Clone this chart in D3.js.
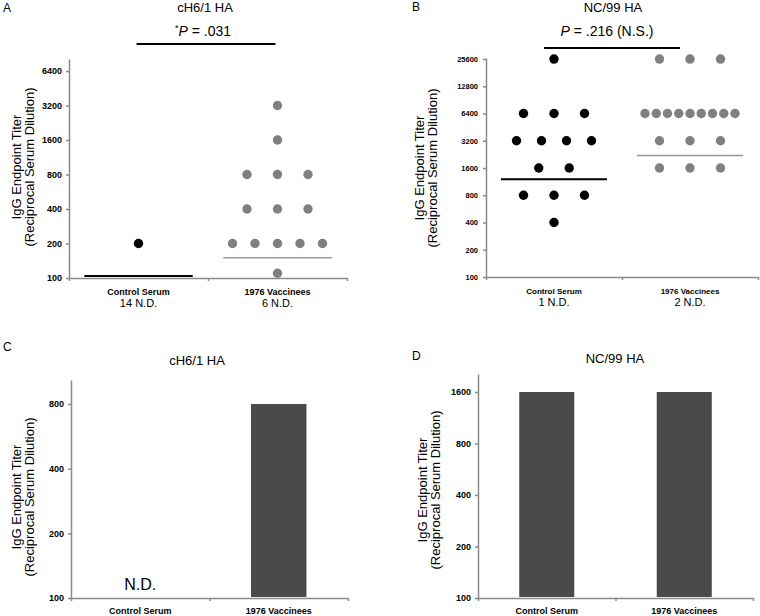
<!DOCTYPE html>
<html>
<head>
<meta charset="utf-8">
<script src="https://cdn.jsdelivr.net/npm/d3@7"></script>
<style>
body { margin: 0; background: #fff; }
svg { display: block; font-family: "Liberation Sans", Arial, sans-serif; }
.axis path, .axis line { stroke: #8a8a8a; stroke-width: 1.5; }
</style>
</head>
<body>
<script>
// Groups on the x axis
var groups = ["Control Serum", "1976 Vaccinees"];

// Panel A - cH6/1 HA, titers per subject
var ticksA = [100, 200, 400, 800, 1600, 3200, 6400];
var controlA = [200];
var vaccineesA = [3200, 1600, 800, 800, 800, 400, 400, 400, 200, 200, 200, 200, 200, 110];
var mediansA = [104, 150];
var notDetectedA = ["14 N.D.", "6 N.D."];
var pTextA = ".031";

// Panel B - NC/99 HA, titers per subject
var ticksB = [100, 200, 400, 800, 1600, 3200, 6400, 12800, 25600];
var controlB = [25600, 6400, 6400, 6400, 3200, 3200, 3200, 3200, 1600, 1600, 800, 800, 800, 400];
var vaccineesB = [25600, 25600, 25600,
  6400, 6400, 6400, 6400, 6400, 6400, 6400, 6400, 6400,
  3200, 3200, 3200, 1600, 1600, 1600];
var mediansB = [1200, 2200];
var notDetectedB = ["1 N.D.", "2 N.D."];
var pTextB = ".216 (N.S.)";

// Panel C / D - pooled sera
var ticksC = [100, 200, 400, 800];
var barsC = [null, 800];
var ticksD = [100, 200, 400, 800, 1600];
var barsD = [1600, 1600];

var svg = d3.select("body").append("svg")
    .attr("width", 760)
    .attr("height", 616);

var dotColors = ["#000", "#808080"];
var lineColors = ["#000", "#999"];

// left/right/top/bottom are the axis box of each panel
var panels = [
  {letter: "A", lx: 3, ly: 12, title: "cH6/1 HA", tx: 205, ty: 12,
   left: 69, right: 347, top: 59, bottom: 278, ymax: 8150, ticks: ticksA,
   dots: [controlA, vaccineesA], medians: mediansA, nd: notDetectedA,
   p: pTextA, star: true, px: 203, py: 36, sigY: 44, sigShift: -2,
   labelX: [21, 34], labelY: 167, narrow: false},
  {letter: "B", lx: 412, ly: 11, title: "NC/99 HA", tx: 613, ty: 12,
   left: 486, right: 758, top: 58, bottom: 277, ymax: 26300, ticks: ticksB,
   dots: [controlB, vaccineesB], medians: mediansB, nd: notDetectedB,
   p: pTextB, star: false, px: 607, py: 36, sigY: 48, sigShift: -10,
   labelX: [424, 437], labelY: 168, narrow: true},
  {letter: "C", lx: 3, ly: 351, title: "cH6/1 HA", tx: 197, ty: 365,
   left: 71, right: 348, top: 380, bottom: 598, ymax: 1035, ticks: ticksC,
   bars: barsC, labelX: [21, 34], labelY: 497, narrow: false},
  {letter: "D", lx: 412, ly: 360, title: "NC/99 HA", tx: 615, ty: 363,
   left: 478, right: 753, top: 374, bottom: 598, ymax: 2038, ticks: ticksD,
   bars: barsD, labelX: [427, 440], labelY: 490, narrow: false}
];

function rowSpacing(n) {
  return n <= 3 ? 30.5 : Math.min(25, 90 / (n - 1));
}

panels.forEach(function(p) {
  var g = svg.append("g");

  var y = d3.scaleLog().base(2)
      .domain([100, p.ymax])
      .range([p.bottom, p.top]);

  var x = d3.scaleBand()
      .domain(groups)
      .range([p.left, p.right]);

  var xTicks = d3.scaleLinear().domain([0, 2]).range([p.left, p.right]);

  // y axis
  var yAxis = g.append("g")
      .attr("class", "axis")
      .attr("transform", "translate(" + p.left + ",0)")
      .call(d3.axisLeft(y).tickValues(p.ticks).tickFormat(d3.format("d"))
        .tickSize(3).tickSizeOuter(0).tickPadding(p.narrow ? 5 : 4));
  yAxis.selectAll("text")
      .attr("fill", "#000")
      .style("font-weight", "bold")
      .style("font-size", p.narrow ? "7.5px" : "9px");

  // x axis, ticks between the groups
  g.append("g")
      .attr("class", "axis")
      .attr("transform", "translate(0," + p.bottom + ")")
      .call(d3.axisBottom(xTicks).tickValues([0, 1, 2]).tickFormat("")
        .tickSize(3).tickSizeOuter(0));

  // group names
  var lblY = p.bars ? 614 : p.bottom + 17;
  g.selectAll(".grp")
      .data(groups)
    .enter().append("text")
      .attr("x", function(d) { return x(d) + x.bandwidth() / 2; })
      .attr("y", lblY)
      .attr("text-anchor", "middle")
      .style("font-weight", "bold")
      .style("font-size", p.narrow ? "8px" : "9px")
      .text(function(d) { return d; });

  if (p.nd) {
    g.selectAll(".nd")
        .data(p.nd)
      .enter().append("text")
        .attr("x", function(d, i) { return x(groups[i]) + x.bandwidth() / 2; })
        .attr("y", p.bottom + 29)
        .attr("text-anchor", "middle")
        .style("font-size", "11px")
        .text(function(d) { return d; });
  }

  // dots, same titers are spread sideways in a row
  if (p.dots) {
    p.dots.forEach(function(vals, gi) {
      var cx = x(groups[gi]) + x.bandwidth() / 2;
      var pts = [];
      d3.groups(vals, function(d) { return d; }).forEach(function(row) {
        var n = row[1].length, s = rowSpacing(n);
        row[1].forEach(function(v, i) {
          pts.push({v: v, off: (i - (n - 1) / 2) * s});
        });
      });
      g.selectAll(".dot" + gi)
          .data(pts)
        .enter().append("circle")
          .attr("cx", function(d) { return cx + d.off; })
          .attr("cy", function(d) { return y(d.v); })
          .attr("r", 4.7)
          .attr("fill", dotColors[gi]);
    });

    // median lines
    g.selectAll(".med")
        .data(p.medians)
      .enter().append("line")
        .attr("x1", function(d, i) { return x(groups[i]) + x.bandwidth() * 0.11; })
        .attr("x2", function(d, i) { return x(groups[i]) + x.bandwidth() * 0.89; })
        .attr("y1", function(d) { return y(d); })
        .attr("y2", function(d) { return y(d); })
        .attr("stroke", function(d, i) { return lineColors[i]; })
        .attr("stroke-width", function(d, i) { return i == 0 ? 2 : 1.5; });

    // significance bar and p value
    g.append("line")
        .attr("x1", x(groups[0]) + x.bandwidth() / 2 + p.sigShift)
        .attr("x2", x(groups[1]) + x.bandwidth() / 2 + p.sigShift)
        .attr("y1", p.sigY)
        .attr("y2", p.sigY)
        .attr("stroke", "#000")
        .attr("stroke-width", 2);

    var pt = g.append("text")
        .attr("x", p.px)
        .attr("y", p.py)
        .attr("text-anchor", "middle")
        .style("font-size", "14px");
    if (p.star) {
      pt.append("tspan").attr("dy", -5).style("font-size", "9px").text("*");
      pt.append("tspan").attr("dy", 5).style("font-style", "italic").text("P");
    } else {
      pt.append("tspan").style("font-style", "italic").text("P");
    }
    pt.append("tspan").text(" = " + p.p);
  }

  // bars from the 100 baseline, N.D. where there is no value
  if (p.bars) {
    var bw = x.bandwidth() * 0.4;
    var bars = p.bars.map(function(v, i) { return {g: groups[i], v: v}; });

    g.selectAll(".bar")
        .data(bars.filter(function(d) { return d.v != null; }))
      .enter().append("rect")
        .attr("x", function(d) { return x(d.g) + (x.bandwidth() - bw) / 2; })
        .attr("width", bw)
        .attr("y", function(d) { return y(d.v); })
        .attr("height", function(d) { return y(100) - y(d.v) - 1; })
        .attr("fill", "#4a4a4a");

    g.selectAll(".ndbar")
        .data(bars.filter(function(d) { return d.v == null; }))
      .enter().append("text")
        .attr("x", function(d) { return x(d.g) + x.bandwidth() / 2; })
        .attr("y", p.bottom - 8)
        .attr("text-anchor", "middle")
        .style("font-size", "16px")
        .text("N.D.");
  }

  // panel letter and title
  g.append("text")
      .attr("x", p.lx)
      .attr("y", p.ly)
      .style("font-size", "12px")
      .text(p.letter);

  g.append("text")
      .attr("x", p.tx)
      .attr("y", p.ty)
      .attr("text-anchor", "middle")
      .style("font-size", "13px")
      .text(p.title);

  // y axis title, two lines
  ["IgG Endpoint Titer", "(Reciprocal Serum Dilution)"].forEach(function(t, i) {
    g.append("text")
        .attr("transform", "translate(" + p.labelX[i] + "," + p.labelY + ")rotate(-90)")
        .attr("text-anchor", "middle")
        .style("font-size", "13px")
        .text(t);
  });
});
</script>
</body>
</html>
